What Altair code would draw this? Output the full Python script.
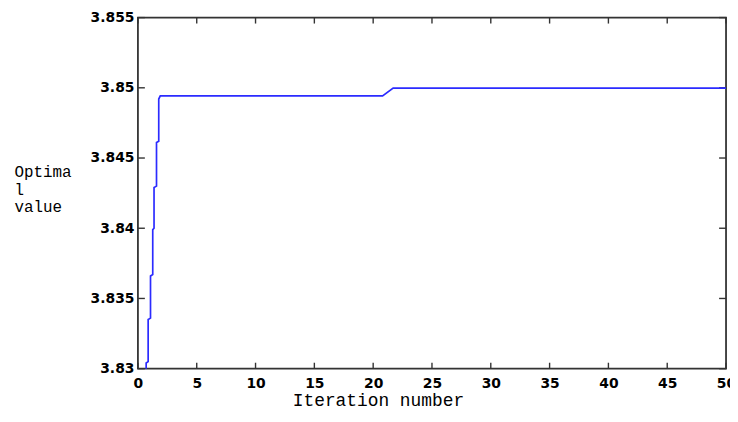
import altair as alt
import pandas as pd

# line data
iter_x = [0.70, 0.70, 0.87, 0.87, 1.07, 1.07, 1.26, 1.26, 1.37, 1.37, 1.58, 1.58, 1.77, 1.77, 1.90, 20.8, 21.7, 50.0]
opt_y = [3.8297, 3.8304, 3.8305, 3.8335, 3.8336, 3.8366, 3.8367, 3.8399, 3.8400, 3.8429, 3.8430, 3.8461, 3.8462, 3.8492, 3.84942, 3.84942, 3.84998, 3.84998]

x_ticks = [0, 5, 10, 15, 20, 25, 30, 35, 40, 45, 50]
y_ticks = [3.83, 3.835, 3.84, 3.845, 3.85, 3.855]

W, H = 593, 354
line_df = pd.DataFrame({"x": iter_x, "y": opt_y, "o": list(range(len(iter_x)))})
xt_df = pd.DataFrame({"x": x_ticks})
yt_df = pd.DataFrame({"y": y_ticks})

xs = alt.Scale(domain=[0, 50], nice=False, zero=False)
ys = alt.Scale(domain=[3.83, 3.855], nice=False, zero=False)

label_font = "DejaVu Sans"
title_font = "Liberation Mono"

line = alt.Chart(line_df).mark_line(color="#2b2bff", strokeWidth=1.7, clip=True).encode(
    x=alt.X("x:Q", scale=xs, axis=alt.Axis(
        values=x_ticks, ticks=False, grid=False, domain=False,
        labelFont=label_font, labelFontSize=14, labelFontWeight="bold", labelColor="#000",
        labelPadding=8, labelBaseline="top", labelFlush=False, labelOverlap=False,
        title="Iteration number", titleFont=title_font, titleFontSize=18, titleFontWeight="normal",
        titleColor="#000", titleX=242, titleY=37, titleBaseline="alphabetic", titleAlign="center")),
    y=alt.Y("y:Q", scale=ys, axis=alt.Axis(
        values=y_ticks, format=".3~f", ticks=False, grid=False, domain=False,
        labelFont=label_font, labelFontSize=14, labelFontWeight="bold", labelColor="#000",
        labelPadding=4, labelBaseline="middle", labelFlush=False, labelOverlap=False,
        title=["Optima", "l", "value"], titleFont=title_font, titleFontSize=16, titleFontWeight="normal",
        titleColor="#000", titleAngle=0, titleAlign="left", titleBaseline="top",
        titleX=-125, titleY=147, titleLineHeight=18)),
    order="o:Q",
)

tick_col = "#333"
bx = alt.Chart(xt_df).mark_rule(color=tick_col, strokeWidth=1.4).encode(
    x=alt.X("x:Q", scale=xs), y=alt.value(H), y2=alt.value(H - 6))
tx = alt.Chart(xt_df).mark_rule(color=tick_col, strokeWidth=1.4).encode(
    x=alt.X("x:Q", scale=xs), y=alt.value(0), y2=alt.value(6))
ly = alt.Chart(yt_df).mark_rule(color=tick_col, strokeWidth=1.4).encode(
    y=alt.Y("y:Q", scale=ys), x=alt.value(0), x2=alt.value(7))
ry = alt.Chart(yt_df).mark_rule(color=tick_col, strokeWidth=1.4).encode(
    y=alt.Y("y:Q", scale=ys), x=alt.value(W), x2=alt.value(W - 7))

chart = alt.layer(bx, tx, ly, ry, line).properties(
    width=W, height=H,
    autosize=alt.AutoSizeParams(type="none"),
    padding={"left": 131, "top": 8, "right": 4, "bottom": 40},
    background="white",
).configure_view(stroke="#333", strokeWidth=1.8)

chart.save("out.html", embed_options={"renderer": "svg", "actions": False})
